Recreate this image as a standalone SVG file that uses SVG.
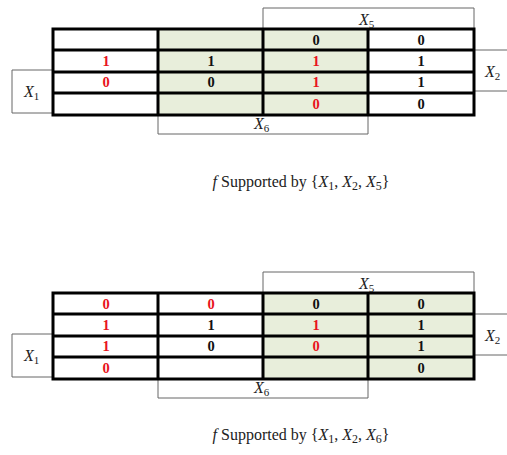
<svg xmlns="http://www.w3.org/2000/svg" width="507" height="455" viewBox="0 0 507 455">
<style>
.grid{fill:none;stroke:#000;stroke-width:3}
.shade{fill:#e8eedb;stroke:none}
.br{fill:none;stroke:#666;stroke-width:1}
.v{font-family:"Liberation Serif","Times New Roman",serif;font-weight:bold;font-size:14.5px;text-anchor:middle;fill:#111}
.r{fill:#e8141c}
.lbl{font-family:"Liberation Serif","Times New Roman",serif;font-style:italic;font-size:16px;fill:#222}
.sub{font-style:normal;font-size:11px}
.cap{font-family:"Liberation Serif","Times New Roman",serif;font-size:16px;fill:#222;text-anchor:middle}
.it{font-style:italic}
</style>
<rect width="507" height="455" fill="#fff"/>
<!-- Top map -->
<g id="map1">
<rect class="shade" x="158" y="29" width="210" height="86"/>
<g id="brackets1">
<path class="br" d="M263,29 V8 H474 V29"/>
<path class="br" d="M474,50 H507 M474,91 H507"/>
<path class="br" d="M53,70 H12 V113 H53"/>
<path class="br" d="M158,115 V134 H368 V115"/>
</g>
<g class="grid">
<rect x="53" y="29" width="421" height="86"/>
<path d="M158,29 V115 M263,29 V115 M368,29 V115 M53,50 H474 M53,72 H474 M53,93 H474"/>
</g>
<g id="vals1">
<text class="v" x="316" y="45">0</text><text class="v" x="421" y="45">0</text>
<text class="v r" x="106" y="66">1</text><text class="v" x="211" y="66">1</text><text class="v r" x="316" y="66">1</text><text class="v" x="421" y="66">1</text>
<text class="v r" x="106" y="87">0</text><text class="v" x="211" y="87">0</text><text class="v r" x="316" y="87">1</text><text class="v" x="421" y="87">1</text>
<text class="v r" x="316" y="109">0</text><text class="v" x="421" y="109">0</text>
</g>
<g id="labels1">
<text class="lbl" x="359" y="25">X<tspan class="sub" dy="3">5</tspan></text>
<text class="lbl" x="485" y="77">X<tspan class="sub" dy="3">2</tspan></text>
<text class="lbl" x="24" y="97">X<tspan class="sub" dy="3">1</tspan></text>
<text class="lbl" x="254" y="129">X<tspan class="sub" dy="3">6</tspan></text>
</g>
</g>
<text id="cap1" class="cap" x="301" y="187"><tspan class="it">f</tspan> Supported by {<tspan class="it">X</tspan><tspan font-size="12" dy="3">1</tspan><tspan dy="-3">, </tspan><tspan class="it">X</tspan><tspan font-size="12" dy="3">2</tspan><tspan dy="-3">, </tspan><tspan class="it">X</tspan><tspan font-size="12" dy="3">5</tspan><tspan dy="-3">}</tspan></text>
<!-- Bottom map -->
<g id="map2" transform="translate(0,264)">
<rect class="shade" x="263" y="29" width="211" height="86"/>
<g id="brackets2">
<path class="br" d="M263,29 V8 H474 V29"/>
<path class="br" d="M474,50 H507 M474,91 H507"/>
<path class="br" d="M53,70 H12 V113 H53"/>
<path class="br" d="M158,115 V134 H368 V115"/>
</g>
<g class="grid">
<rect x="53" y="29" width="421" height="86"/>
<path d="M158,29 V115 M263,29 V115 M368,29 V115 M53,50 H474 M53,72 H474 M53,93 H474"/>
</g>
<g id="vals2">
<text class="v r" x="106" y="45">0</text><text class="v r" x="211" y="45">0</text><text class="v" x="316" y="45">0</text><text class="v" x="421" y="45">0</text>
<text class="v r" x="106" y="66">1</text><text class="v" x="211" y="66">1</text><text class="v r" x="316" y="66">1</text><text class="v" x="421" y="66">1</text>
<text class="v r" x="106" y="87">1</text><text class="v" x="211" y="87">0</text><text class="v r" x="316" y="87">0</text><text class="v" x="421" y="87">1</text>
<text class="v r" x="106" y="109">0</text><text class="v" x="421" y="109">0</text>
</g>
<g id="labels2">
<text class="lbl" x="359" y="25">X<tspan class="sub" dy="3">5</tspan></text>
<text class="lbl" x="485" y="77">X<tspan class="sub" dy="3">2</tspan></text>
<text class="lbl" x="24" y="97">X<tspan class="sub" dy="3">1</tspan></text>
<text class="lbl" x="254" y="129">X<tspan class="sub" dy="3">6</tspan></text>
</g>
</g>
<text id="cap2" class="cap" x="301" y="440"><tspan class="it">f</tspan> Supported by {<tspan class="it">X</tspan><tspan font-size="12" dy="3">1</tspan><tspan dy="-3">, </tspan><tspan class="it">X</tspan><tspan font-size="12" dy="3">2</tspan><tspan dy="-3">, </tspan><tspan class="it">X</tspan><tspan font-size="12" dy="3">6</tspan><tspan dy="-3">}</tspan></text>
</svg>
